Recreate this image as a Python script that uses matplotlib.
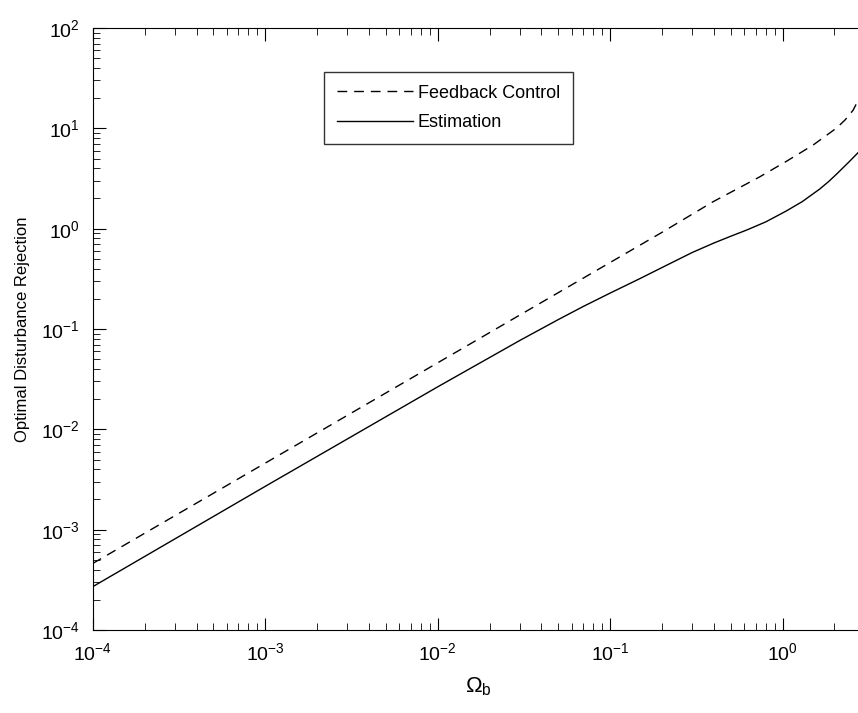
import matplotlib
matplotlib.use("Agg")
import matplotlib.pyplot as plt

# Omega_b values and curves
omega_fb = [1e-4, 1e-3, 1e-2, 0.03, 0.1, 0.2, 0.394, 0.738, 1.05, 1.5,
            2.06, 2.3, 2.56, 2.73, 3.0]
feedback = [4.6e-4, 4.6e-3, 4.6e-2, 0.138, 0.46, 0.92, 1.85, 3.29, 4.68, 6.8,
            10.1, 12.1, 15.1, 18.7, 27.0]

omega_est = [1e-4, 1e-3, 1e-2, 0.03, 0.05, 0.07, 0.1, 0.15, 0.2, 0.3, 0.4, 0.5,
             0.62, 0.8, 1.05, 1.3, 1.64, 1.85, 2.06, 2.4, 2.73, 3.0]
estimation = [2.7e-4, 2.7e-3, 2.65e-2, 7.7e-2, 0.124, 0.168, 0.228, 0.32, 0.41,
              0.58, 0.72, 0.84, 0.97, 1.17, 1.5, 1.86, 2.48, 2.95, 3.51, 4.54,
              5.69, 6.74]

plt.rcParams['font.family'] = ['Liberation Sans', 'DejaVu Sans']
plt.rcParams['mathtext.fontset'] = 'custom'
plt.rcParams['mathtext.rm'] = 'Liberation Sans'

fig = plt.figure(figsize=(8.58, 7.13), dpi=100)
ax = fig.add_axes([0.108, 0.1164, 0.900, 0.8443])

ax.plot(omega_fb, feedback, 'k--', lw=1.0, dashes=(7, 5), label='Feedback Control')
ax.plot(omega_est, estimation, 'k-', lw=1.0, label='Estimation')

ax.set_xscale('log')
ax.set_yscale('log')
ax.set_xlim(1e-4, 3)
ax.set_ylim(1e-4, 1e2)

ax.tick_params(which='both', direction='in', top=True, right=False, labelsize=14)
ax.tick_params(which='major', length=9)
ax.tick_params(which='minor', length=5)
ax.tick_params(axis='x', pad=9)
ax.tick_params(axis='y', pad=9)
ax.spines['right'].set_visible(False)

ax.set_xlabel(r'$\mathregular{\Omega_b}$', fontsize=16, labelpad=8)
ax.set_ylabel('Optimal Disturbance Rejection', fontsize=12, labelpad=8)

leg = ax.legend(loc='upper left', bbox_to_anchor=(315 / 858, 1 - 63 / 713),
                bbox_transform=fig.transFigure, fontsize=13, frameon=True,
                fancybox=False, edgecolor='black', handlelength=4.2,
                handletextpad=0.3, borderpad=0.7, labelspacing=0.7)
leg.get_frame().set_linewidth(1.0)

fig.savefig('out.png', dpi=100)
